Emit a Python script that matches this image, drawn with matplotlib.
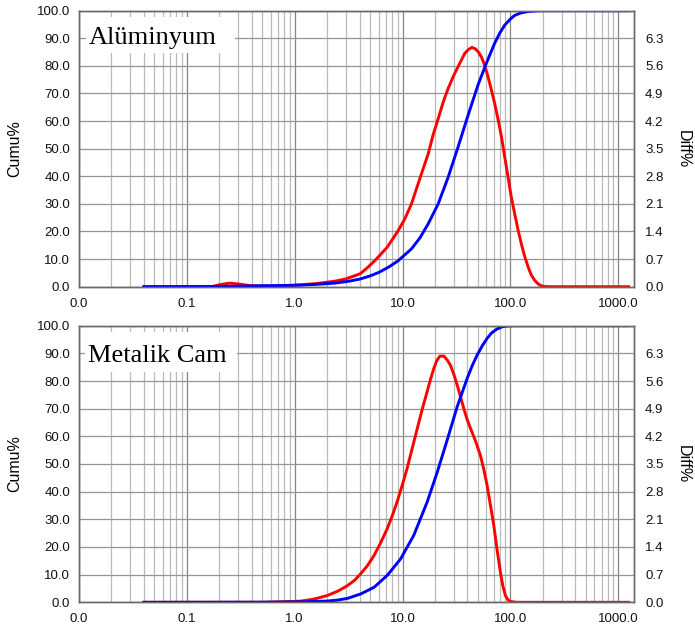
import numpy as np
import matplotlib
matplotlib.use('Agg')
import matplotlib.pyplot as plt
from matplotlib.ticker import FixedLocator, LogLocator, FuncFormatter, NullFormatter
from matplotlib.patches import Rectangle

plt.rcParams['font.family'] = ['Liberation Sans', 'DejaVu Sans']

# ---- data ----
titles = ["Alüminyum", "Metalik Cam"]

# Alüminyum
al_diff_x = [0.04, 0.17, 0.2, 0.25, 0.3, 0.4, 0.6, 0.8, 1.16, 1.6, 2.36, 3.0, 4.06, 4.8, 5.62,
             7.2, 9.1, 10.5, 12.1, 14.5, 17.3, 19.2, 21.4, 23.8, 26.5, 29.5, 32.7, 37.8, 41.0,
             44.1, 47.5, 50.5, 53.8, 58.0, 62.1, 66.5, 71.6, 76.8, 82.6, 88.5, 95.1, 101.5,
             109.6, 117.5, 126.5, 136, 146, 156, 168, 181, 194, 210, 230, 1250]
al_diff_y = [0, 0, 0.05, 0.09, 0.07, 0.02, 0.01, 0.02, 0.05, 0.08, 0.14, 0.2, 0.33, 0.5, 0.68,
             1.0, 1.42, 1.72, 2.10, 2.75, 3.37, 3.85, 4.26, 4.68, 5.03, 5.33, 5.58, 5.92, 6.02,
             6.07, 6.03, 5.95, 5.83, 5.6, 5.32, 5.0, 4.64, 4.25, 3.80, 3.3, 2.78, 2.3,
             1.85, 1.45, 1.08, 0.76, 0.5, 0.3, 0.16, 0.07, 0.02, 0.005, 0, 0]
al_cumu_x = [0.04, 0.15, 0.3, 0.5, 0.8, 1.16, 1.6, 2.36, 3.2, 4.06, 5.0, 6.04, 7.5, 9.1, 12.1,
             14.5, 17.3, 21.4, 26.5, 32.7, 40.5, 50, 59.9, 71.6, 80, 88.7, 100, 109.6, 125,
             146, 175, 200, 1250]
al_cumu_y = [0, 0.05, 0.2, 0.35, 0.45, 0.6, 0.85, 1.3, 2.0, 2.8, 3.9, 5.2, 7.2, 9.4, 13.7,
             17.7, 22.8, 30.0, 39.7, 50.6, 62.1, 73.0, 81.0, 88.3, 92.0, 94.8, 97.0, 98.3, 99.2,
             99.7, 99.95, 100, 100]

# Metalik Cam
mc_diff_x = [0.04, 0.5, 0.74, 1.14, 1.5, 2.0, 2.5, 3.08, 3.6, 4.08, 4.7, 5.43, 6.2, 7.2, 8.0, 8.9,
             9.9, 11.0, 12.3, 13.7, 15.2, 16.9, 18.2, 19.5, 20.8, 22.2, 24.2, 26.0, 27.8,
             29.8, 32.1, 34.5, 37, 39.8, 42.7, 47.5, 52.7, 56.5, 60.8, 65.3, 70.2, 75.2, 80.8,
             85, 90, 95, 100, 115, 1250]
mc_diff_y = [0, 0, 0.01, 0.03, 0.08, 0.17, 0.28, 0.42, 0.56, 0.72, 0.92, 1.18, 1.48, 1.86,
             2.18, 2.54, 2.95, 3.38, 3.9, 4.40, 4.88, 5.33, 5.65, 5.92, 6.12, 6.23, 6.23, 6.13,
             6.00, 5.78, 5.50, 5.2, 4.90, 4.62, 4.40, 4.08, 3.72, 3.38, 2.96, 2.46, 1.94, 1.34,
             0.76, 0.42, 0.17, 0.06, 0.02, 0, 0]
mc_cumu_x = [0.04, 0.5, 1.0, 1.5, 2.0, 2.5, 3.08, 4.08, 5.43, 7.2, 9.6, 12.7, 16.9, 21.0, 25.9,
             32.1, 39.7, 44.3, 49.2, 55, 60.8, 67, 75.1, 84, 92.9, 103, 115, 1250]
mc_cumu_y = [0, 0.05, 0.15, 0.28, 0.45, 0.8, 1.4, 3.0, 5.4, 9.7, 15.7, 24.2, 36.2, 47.1, 58.6,
             70.7, 80.9, 85.6, 89.4, 92.8, 95.4, 97.4, 98.8, 99.6, 99.9, 99.98, 100, 100]

panels = [(al_diff_x, al_diff_y, al_cumu_x, al_cumu_y),
          (mc_diff_x, mc_diff_y, mc_cumu_x, mc_cumu_y)]

cumu_ticks = np.arange(0, 101, 10)
diff_ticks = np.round(np.arange(0, 7.01, 0.7), 1)

W, H = 695, 633
fig = plt.figure(figsize=(W / 100, H / 100), dpi=100)

# axes boxes in pixels: left, top, right, bottom
boxes = [(79, 10.7, 634, 286.7), (79, 325.7, 634, 602.3)]
# label box in pixels: left, top, right, bottom, text baseline (axes fraction)
title_boxes = [(86, 17, 235, 53, 0.879), (85, 332, 237, 372, 0.869)]

for i, (dx, dy, cx, cy) in enumerate(panels):
    l, t, r, b = boxes[i]
    ax = fig.add_axes([l / W, 1 - b / H, (r - l) / W, (b - t) / H])
    ax2 = ax.twinx()
    # cumulative axis drawn above the diff axis
    ax.set_zorder(ax2.get_zorder() + 1)
    ax.patch.set_visible(False)
    ax2.patch.set_visible(True)
    ax2.patch.set_facecolor('white')

    ax.set_xscale('log')
    ax.set_xlim(0.01, 1400)
    ax.set_ylim(0, 100)
    ax2.set_ylim(0, 7)

    ax.xaxis.set_major_locator(FixedLocator([0.01, 0.1, 1, 10, 100, 1000]))
    ax.xaxis.set_minor_locator(LogLocator(base=10, subs=np.arange(2, 10), numticks=20))
    ax.xaxis.set_major_formatter(FuncFormatter(lambda v, p: f"{v:.1f}"))
    ax.xaxis.set_minor_formatter(NullFormatter())
    ax.set_yticks(cumu_ticks)
    ax.yaxis.set_major_formatter(FuncFormatter(lambda v, p: f"{v:.1f}"))

    # grid on the lower (twin) axes
    ax2.xaxis.set_visible(True)
    ax2.tick_params(axis='x', which='both', labelbottom=False, labeltop=False,
                    bottom=False, top=False)
    ax2.set_yticks(diff_ticks)
    ax2.set_yticklabels([f"{v:.1f}" for v in diff_ticks[:-1]] + [""])
    ax2.grid(True, axis='y', color='#959595', lw=0.9)
    ax2.grid(True, axis='x', which='major', color='#858585', lw=0.9)
    ax2.grid(True, axis='x', which='minor', color='#bababa', lw=0.9)

    ax2.plot(dx, dy, color='#ff0000', lw=2.1)
    ax.plot(cx, cy, color='#0000ff', lw=2.1)

    ax.tick_params(axis='x', which='both', length=0, pad=8, labelsize=9.5, labelcolor='#111111')
    ax.tick_params(axis='y', length=0, pad=6.5, labelsize=9.5, labelcolor='#111111')
    ax2.tick_params(axis='y', length=0, pad=8, labelsize=9.5, labelcolor='#111111')

    for a in (ax, ax2):
        for s in a.spines.values():
            s.set_color('#6a6a6a')
            s.set_linewidth(1.0)

    ax.set_ylabel("Cumu%", fontsize=11.5)
    ax.yaxis.set_label_coords(-0.103, 0.5)
    ax2.set_ylabel("Diff%", fontsize=11.5, rotation=-90, va='center')
    ax2.yaxis.set_label_coords(1.088, 0.5)

    # white label box in the top-left corner
    bl, bt, br, bb, ty = title_boxes[i]
    ax.add_patch(Rectangle(((bl - l) / (r - l), 1 - (bb - t) / (b - t)),
                           (br - bl) / (r - l), (bb - bt) / (b - t),
                           transform=ax.transAxes, facecolor='white', edgecolor='none',
                           zorder=2.1, clip_on=False))
    ax.text(0.017, ty, titles[i], transform=ax.transAxes, fontsize=19,
            family=['Liberation Serif', 'DejaVu Serif'], va='baseline', ha='left', zorder=3)

fig.savefig("out.png", dpi=100)
